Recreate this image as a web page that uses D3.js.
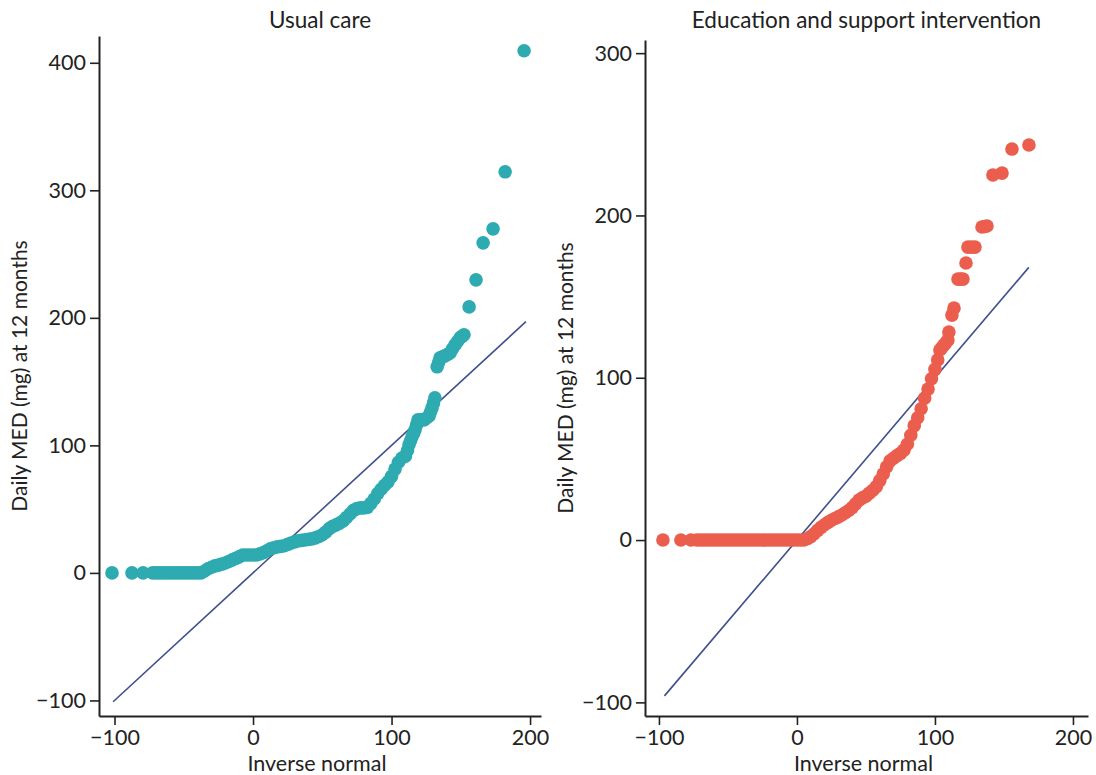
<!DOCTYPE html>
<html>
<head>
<meta charset="utf-8">
<script src="https://cdn.jsdelivr.net/npm/d3@7"></script>
<style>
  html, body { margin: 0; padding: 0; background: #fff; }
  svg { display: block; font-family: Lato, "Open Sans", sans-serif; }
</style>
</head>
<body>
<svg id="chart" width="1096" height="775"></svg>
<script>
// ---- Data ----
const panelTitles = ["Usual care", "Education and support intervention"];
const xTicks = [-100, 0, 100, 200];
const yTicksUsual = [-100, 0, 100, 200, 300, 400];
const yTicksEdu = [-100, 0, 100, 200, 300];

// Usual care: inverse-normal (x) and daily MED (y)
const usualX = [-101.8,-87.4,-79.4,
  -72.5,-70,-67.5,-65,-62.5,-60,-57.5,-55,-52.5,-50,-47.5,-45,-42.5,-40,-37.5,
  -35,-32.5,-30,-27.5,-25,-22.5,-20,-17.5,-15,-12.5,-10,-7.5,-5,-2.5,0,2.5,5,7.5,10,12.5,15,17.5,20,22.5,25,27.5,
  30,32.5,35,37.5,40,42.5,45,47.5,50,52.5,55,57.5,60,62.5,65,67.5,70,72.5,75,77.5,80,82.5,85,87.5,90,92.5,95,97.5,
  100,102.5,105,107.5,110,111.5,112.6,113.7,114.8,116,117,118,119.1,121.3,123.5,125.3,127.1,128.2,129.2,130.3,131.3,
  132.9,134,135,136.8,138.6,140.4,142.2,144,145.8,147.6,149.5,150.9,152.3,
  156,161,166.1,173.3,182,195.7];
const usualY = [0,0,0,
  0,0,0,0,0,0,0,0,0,0,0,0,0,0,0,
  1.5,3.3,4.4,5.5,6.1,6.9,7.8,9.0,10.2,11.4,12.6,14,14.1,14.1,14.1,14.1,14.9,15.9,17.4,18.9,19.7,20.4,20.8,21.3,22.4,23.5,
  24.3,25.1,25.5,25.9,26.3,26.7,27.5,28.5,29.9,32,34.7,36.5,37.7,39,40.8,43.5,46.2,49,50.4,51,51,51.3,54.5,58,62.2,65.6,68.7,71.4,
  75.7,81.4,86.8,90.1,91.5,96,100.4,103.6,106.7,109.7,112.2,116,120,120,120,121.5,123.1,126.3,129.4,133.3,137.3,
  161.6,165,168.6,169.4,170.2,171.3,172.5,175.7,178.8,181.5,184.3,185.5,186.7,
  208.6,229.8,258.8,269.8,314.5,409.4];
const usualLine = [-101, 197];

// Education and support intervention
const eduX = [-97.1,-84.1,-76.8,
  -72.5,-70,-67.5,-65,-62.5,-60,-57.5,-55,-52.5,-50,-47.5,-45,-42.5,-40,-37.5,-35,-32.5,-30,-27.5,-25,-22.5,-20,-17.5,-15,-12.5,-10,-7.5,-5,-2.5,0,2.5,5,
  7.5,10,12.5,15,17.5,20,22.5,25,27.5,30,32.5,35,37.5,40,42.5,45,47.5,50,52.5,55,57.5,60,62.5,65,67.5,70,72.5,75,77.5,80,82.5,85,87.5,90,92.5,95,97.5,
  100,102,103.6,105,106.5,108,109.4,110.1,112.3,113.8,116.7,118.5,120.3,122.5,123.9,126.5,129,134.1,136,137.7,
  142,148.6,155.8,168.1];
const eduY = [0,0,0,
  0,0,0,0,0,0,0,0,0,0,0,0,0,0,0,0,0,0,0,0,0,0,0,0,0,0,0,0,0,0,0,0,
  0.8,2.1,3.9,6.0,7.8,9.4,10.9,12.2,13.3,14.3,15.4,16.8,18.2,20,22.3,24.6,26,27.1,28.9,30.7,32.9,36.6,40.7,45.1,48.8,50.4,52,53.4,55.4,59,64.6,70.5,75.4,80.9,87.4,93,99.4,
  105.2,111,117.1,118.6,120.1,121.7,123.2,128.2,138.6,142.9,160.8,160.8,160.8,170.7,180.5,180.5,180.5,192.9,193.2,193.5,
  224.9,226.1,240.9,243.4];
const eduLine = [-96, 168];

// ---- Drawing ----
const svg = d3.select("#chart");
const textColor = "#222";
const lineColor = "#3f4f8c";
const fmt = d => (d < 0 ? "\u2212" + Math.abs(d) : String(d));

const panels = [
  { title: panelTitles[0], xs: usualX, ys: usualY, line: usualLine, yTicks: yTicksUsual,
    color: "#2eaab1", left: 99, right: 541, top: 36, bottom: 716,
    xDomain: [-111.2, 207.9], yDomain: [-112.2, 421] },
  { title: panelTitles[1], xs: eduX, ys: eduY, line: eduLine, yTicks: yTicksEdu,
    color: "#eb5e4e", left: 645, right: 1088, top: 40, bottom: 716,
    xDomain: [-110.1, 210.9], yDomain: [-108.4, 308.1] }
];

panels.forEach(p => {
  const x = d3.scaleLinear().domain(p.xDomain).range([p.left, p.right]);
  const y = d3.scaleLinear().domain(p.yDomain).range([p.bottom, p.top]);
  const g = svg.append("g");

  // reference line y = x
  g.append("line")
    .attr("x1", x(p.line[0])).attr("y1", y(p.line[0]))
    .attr("x2", x(p.line[1])).attr("y2", y(p.line[1]))
    .attr("stroke", lineColor).attr("stroke-width", 1.6);

  // points
  g.selectAll("circle.pt").data(p.xs.map((v, i) => [v, p.ys[i]]))
    .enter().append("circle")
    .attr("class", "pt")
    .attr("cx", d => x(d[0])).attr("cy", d => y(d[1]))
    .attr("r", 6.8)
    .attr("fill", p.color);

  // axes
  const xAxis = d3.axisBottom(x).tickValues(xTicks).tickFormat(fmt).tickSize(9).tickSizeOuter(0).tickPadding(5);
  const yAxis = d3.axisLeft(y).tickValues(p.yTicks).tickFormat(fmt).tickSize(9).tickSizeOuter(0).tickPadding(4);

  const gx = g.append("g").attr("transform", `translate(0,${p.bottom})`).call(xAxis);
  const gy = g.append("g").attr("transform", `translate(${p.left},0)`).call(yAxis);
  [gx, gy].forEach(a => {
    a.select(".domain").attr("stroke", textColor).attr("stroke-width", 2);
    a.selectAll(".tick line").attr("stroke", textColor).attr("stroke-width", 1.6);
    a.selectAll(".tick text").attr("fill", textColor).style("font-size", "21.5px").style("font-family", "Lato, sans-serif");
  });

  const cx = (p.left + p.right) / 2;
  // title
  g.append("text").attr("x", cx).attr("y", 28)
    .attr("text-anchor", "middle").attr("fill", textColor)
    .style("font-size", "22.5px").text(p.title);
  // x label
  g.append("text").attr("x", cx - 3).attr("y", 771)
    .attr("text-anchor", "middle").attr("fill", textColor)
    .style("font-size", "21.5px").text("Inverse normal");
  // y label
  g.append("text")
    .attr("transform", `translate(${p.left - 72},${(p.top + p.bottom) / 2}) rotate(-90)`)
    .attr("text-anchor", "middle").attr("fill", textColor)
    .style("font-size", "21px").text("Daily MED (mg) at 12 months");
});
</script>
</body>
</html>
